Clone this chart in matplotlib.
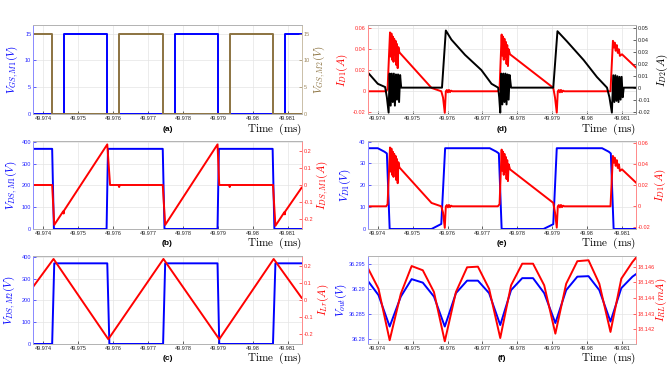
import numpy as np
import matplotlib.pyplot as plt

plt.rcParams['mathtext.fontset'] = 'cm'
plt.rcParams['font.family'] = ['Liberation Sans', 'DejaVu Sans']

BLUE = '#0000ff'
RED = '#ff0000'
BROWN = '#8c7341'
BLACK = '#000000'

# ---- shared time axis (ms) ----
x_lim = (49.97371, 49.9814)
x_ticks = [49.974, 49.975, 49.976, 49.977, 49.978, 49.979, 49.98, 49.981]
x_tick_labels = ['49.974', '49.975', '49.976', '49.977', '49.978', '49.979', '49.98', '49.981']

# ---- (a) gate voltages ----
t_vgs1 = [49.9737, 49.9746, 49.9746, 49.97583, 49.97583, 49.97776, 49.97776,
          49.97901, 49.97901, 49.98092, 49.98092, 49.9814]
v_gs1 = [0, 0, 15, 15, 0, 0, 15, 15, 0, 0, 15, 15]
t_vgs2 = [49.9737, 49.97425, 49.97425, 49.97617, 49.97617, 49.97743, 49.97743,
          49.97935, 49.97935, 49.98059, 49.98059, 49.9814]
v_gs2 = [15, 15, 0, 0, 15, 15, 0, 0, 15, 15, 0, 0]

# ---- (b) M1 drain-source ----
t_vds1 = [49.9737, 49.97425, 49.9743, 49.97581, 49.97585, 49.97742, 49.97747,
          49.97899, 49.97903, 49.98057, 49.98062, 49.9814]
v_ds1 = [368, 368, 0, 0, 368, 368, 0, 0, 368, 368, 0, 0]
t_ids1 = [49.9737, 49.97425, 49.97431, 49.97457, 49.97458, 49.97459, 49.97583,
          49.97591, 49.97615, 49.97617, 49.97619, 49.97742, 49.97749, 49.97899,
          49.97904, 49.97932, 49.97934, 49.97936, 49.98058, 49.98065, 49.98091,
          49.98092, 49.98093, 49.9814]
i_ds1 = [0, 0, -0.235, -0.154, -0.168, -0.151, 0.239,
         0, 0, -0.012, 0, 0, -0.235, 0.239,
         0, 0, -0.012, 0, 0, -0.24, -0.159,
         -0.173, -0.156, -0.016]

# ---- (c) M2 drain-source and resonant current ----
t_vds2 = [49.9737, 49.97425, 49.97431, 49.97583, 49.97589, 49.97743, 49.97749,
          49.97899, 49.97904, 49.98058, 49.98065, 49.9814]
v_ds2 = [0, 0, 370, 370, 0, 0, 370, 370, 0, 0, 370, 370]
t_ilr = [49.9737, 49.97429, 49.97586, 49.97744, 49.97904, 49.9806, 49.9814]
i_lr = [0.075, 0.239, -0.23, 0.239, -0.23, 0.239, 0.012]

# ---- (d)/(e) diode currents ----
t_id1 = [49.9737, 49.97424, 49.97428, 49.97435, 49.97437, 49.97439, 49.97441,
         49.97443, 49.97445, 49.97447, 49.97449, 49.97451, 49.97453, 49.97455,
         49.97457, 49.97459, 49.97462, 49.97554, 49.97582, 49.97587, 49.97592,
         49.97595, 49.97598, 49.97601, 49.97604, 49.97607, 49.9761, 49.97614,
         49.97744, 49.97749, 49.97755, 49.97757, 49.97759, 49.97761, 49.97763,
         49.97765, 49.97767, 49.97769, 49.97771, 49.97773, 49.97775, 49.97779,
         49.97903, 49.97908, 49.97913, 49.97916, 49.97919, 49.97922, 49.97925,
         49.97928, 49.97931, 49.97935, 49.98067, 49.98074, 49.98077, 49.98079,
         49.98082, 49.98085, 49.98088, 49.98091, 49.98094, 49.981, 49.9814]
i_d1 = [0, 0, 0.002, 0.056, 0.033, 0.055, 0.03,
        0.052, 0.028, 0.05, 0.035, 0.048, 0.025, 0.045,
        0.022, 0.042, 0.037, 0.0032, 0, -0.006, -0.0205,
        0, 0.0012, -0.001, 0.0013, -0.0008, 0.0006, 0,
        0, 0.002, 0.054, 0.034, 0.052, 0.03, 0.05,
        0.033, 0.047, 0.026, 0.044, 0.024, 0.04, 0.0352,
        0.0033, -0.006, -0.0203, 0, 0.0012, -0.001, 0.0013,
        -0.0008, 0.0006, 0, 0, 0.048, 0.0416, 0.0464,
        0.0385, 0.044, 0.0365, 0.04, 0.0337, 0.0352, 0.0226]
t_id2 = [49.9737, 49.974, 49.97421, 49.97426, 49.97431, 49.97434, 49.97437,
         49.9744, 49.97443, 49.97446, 49.97449, 49.97452, 49.97455, 49.97458,
         49.97461, 49.97464, 49.97467, 49.97584, 49.97595, 49.97611, 49.9765,
         49.97697, 49.97726, 49.97745, 49.97748, 49.97751, 49.97754, 49.97757,
         49.9776, 49.97763, 49.97766, 49.97769, 49.97772, 49.97775, 49.97778,
         49.97782, 49.97903, 49.97915, 49.97942, 49.9799, 49.98028, 49.98057,
         49.98064, 49.98071, 49.98075, 49.98078, 49.98081, 49.98084, 49.98087,
         49.9809, 49.98093, 49.98096, 49.98099, 49.98102, 49.98105, 49.9814]
i_d2 = [0.0131, 0.0032, 0.0005, -0.008, -0.0208, 0.0117, -0.015,
        0.0117, -0.012, 0.0117, -0.015, 0.011, -0.01, 0.011,
        -0.012, 0.0105, 0, 0, 0.0476, 0.040, 0.0273,
        0.0146, 0.0032, 0, -0.008, -0.0208, 0.0117, -0.014,
        0.0117, -0.012, 0.0117, -0.014, 0.011, -0.01, 0.0105,
        0, 0, 0.047, 0.0386, 0.023, 0.0089, 0,
        -0.008, -0.0208, 0.0103, -0.012, 0.0103, -0.011, 0.0095,
        -0.012, 0.009, -0.01, 0.009, -0.008, 0, 0]

# ---- (e) diode voltage ----
t_vd1 = [49.9737, 49.974, 49.97419, 49.97426, 49.97434, 49.97554, 49.97582,
         49.97593, 49.97721, 49.9774, 49.97747, 49.97755, 49.97875, 49.97903,
         49.97913, 49.98043, 49.98062, 49.98068, 49.98076, 49.9814]
v_d1 = [37, 37, 35.4, 34.6, 0, 0, 2.3,
        37, 37, 35.4, 34.6, 0, 0, 2.2,
        37, 37, 35.4, 34.6, 0, 0]

# ---- (f) output voltage and load current ----
t_out = [49.9737, 49.97402, 49.97434, 49.97466, 49.97497, 49.97529, 49.97561,
         49.97592, 49.97624, 49.97656, 49.97687, 49.97719, 49.97751, 49.97782,
         49.97814, 49.97845, 49.97877, 49.97909, 49.9794, 49.97972, 49.98004,
         49.98035, 49.98067, 49.98098, 49.9813, 49.98142]
v_out = [36.2918, 36.2888, 36.2825, 36.2885, 36.2920, 36.2913, 36.2885,
         36.2825, 36.2892, 36.2917, 36.2917, 36.2892, 36.2828, 36.2898,
         36.2922, 36.2922, 36.2892, 36.2832, 36.2898, 36.2925, 36.2926,
         36.2898, 36.2835, 36.2902, 36.2925, 36.2931]
i_rl = [18.14598, 18.14459, 18.14130, 18.14427, 18.14604, 18.14577, 18.14438,
        18.14123, 18.14438, 18.14596, 18.14600, 18.14459, 18.14144, 18.14481,
        18.14619, 18.14619, 18.14481, 18.14172, 18.14491, 18.14635, 18.14641,
        18.14491, 18.14183, 18.14523, 18.14630, 18.14662]

# ---- panel layout ----
col_left = [0.0498, 0.5496]
col_width = 0.401
row_bottom = [0.6911, 0.3811, 0.0703]
row_height = [0.2414, 0.2378, 0.2386]

fig = plt.figure(figsize=(6.69, 3.70), dpi=100)


def lighten(c, f=0.55):
    rgb = np.array(plt.matplotlib.colors.to_rgb(c))
    return tuple(rgb + (1 - rgb) * f)


def panel(col, row, tag, left, right, ylim_l, ylim_r, yt_l, yt_r,
          lab_l, lab_r, c_l, c_r, lx, rx):
    ax = fig.add_axes([col_left[col], row_bottom[row], col_width, row_height[row]])
    ax2 = ax.twinx()
    for t, y, c in left:
        ax.plot(t, y, color=c, lw=1.4)
    for t, y, c in right:
        ax2.plot(t, y, color=c, lw=1.4)
    ax.set_xlim(*x_lim)
    ax.set_ylim(*ylim_l)
    ax2.set_ylim(*ylim_r)
    ax.set_xticks(x_ticks)
    ax.set_xticklabels(x_tick_labels)
    ax.set_yticks(yt_l)
    ax.set_yticklabels(['%g' % v for v in yt_l])
    ax2.set_yticks(yt_r)
    ax2.set_yticklabels(['%g' % v for v in yt_r])
    ax.grid(True, color='#e4e4e4', lw=0.5)
    ax.set_axisbelow(True)
    for a in (ax, ax2):
        a.tick_params(direction='in', length=2, width=0.5, labelsize=4.0, pad=1.5)
        a.spines['top'].set_color('#b4b4b4')
        a.spines['bottom'].set_color('#b4b4b4')
        a.spines['left'].set_color(lighten(c_l))
        a.spines['right'].set_color(lighten(c_r))
        for s in a.spines.values():
            s.set_linewidth(0.7)
    ax.tick_params(axis='x', colors='#262626')
    ax.tick_params(axis='y', colors=lighten(c_l, 0.15))
    ax2.tick_params(axis='y', colors=lighten(c_r, 0.15))
    ax.set_ylabel(lab_l, color=c_l, fontsize=8)
    ax2.set_ylabel(lab_r, color=c_r, fontsize=8)
    ax.yaxis.set_label_coords(lx, 0.5)
    ax2.yaxis.set_label_coords(rx, 0.5)
    ax.text(0.5, -0.165, tag, transform=ax.transAxes, ha='center', va='center',
            fontsize=6, fontweight='bold')
    ax.text(1.0, -0.165, r'$\mathrm{Time\ \ (ms)}$', transform=ax.transAxes,
            ha='right', va='center', fontsize=8)
    return ax, ax2


panel(0, 0, '(a)', [(t_vgs1, v_gs1, BLUE)], [(t_vgs2, v_gs2, BROWN)],
      (0, 16.6), (0, 16.6), [0, 5, 10, 15], [0, 5, 10, 15],
      r'$V_{GS,M1}(V)$', r'$V_{GS,M2}(V)$', BLUE, BROWN, -0.046, 1.037)

panel(0, 1, '(b)', [(t_vds1, v_ds1, BLUE)], [(t_ids1, i_ds1, RED)],
      (0, 404), (-0.259, 0.259), [0, 100, 200, 300, 400], [-0.2, -0.1, 0, 0.1, 0.2],
      r'$V_{DS,M1}(V)$', r'$I_{DS,M1}(A)$', BLUE, RED, -0.05, 1.048)

panel(0, 2, '(c)', [(t_vds2, v_ds2, BLUE)], [(t_ilr, i_lr, RED)],
      (0, 405), (-0.258, 0.258), [0, 100, 200, 300, 400], [-0.2, -0.1, 0, 0.1, 0.2],
      r'$V_{DS,M2}(V)$', r'$I_{Lr}(A)$', BLUE, RED, -0.056, 1.052)

panel(1, 0, '(d)', [(t_id1, i_d1, RED)], [(t_id2, i_d2, BLACK)],
      (-0.0219, 0.0631), (-0.0222, 0.0522), [-0.02, 0, 0.02, 0.04, 0.06],
      [-0.02, -0.01, 0, 0.01, 0.02, 0.03, 0.04, 0.05],
      r'$I_{D1}(A)$', r'$I_{D2}(A)$', RED, BLACK, -0.066, 1.07)

panel(1, 1, '(e)', [(t_vd1, v_d1, BLUE)], [(t_id1, i_d1, RED)],
      (0, 40.3), (-0.0216, 0.0622), [0, 10, 20, 30, 40], [-0.02, 0, 0.02, 0.04, 0.06],
      r'$V_{D1}(V)$', r'$I_{D1}(A)$', BLUE, RED, -0.054, 1.062)

panel(1, 2, '(f)', [(t_out, v_out, BLUE)], [(t_out, i_rl, RED)],
      (36.279, 36.2967), (18.14106, 18.1467), [36.28, 36.285, 36.29, 36.295],
      [18.142, 18.143, 18.144, 18.145, 18.146],
      r'$V_{out}(V)$', r'$I_{RL}(mA)$', BLUE, RED, -0.07, 1.068)

fig.savefig('out.png', dpi=100)
